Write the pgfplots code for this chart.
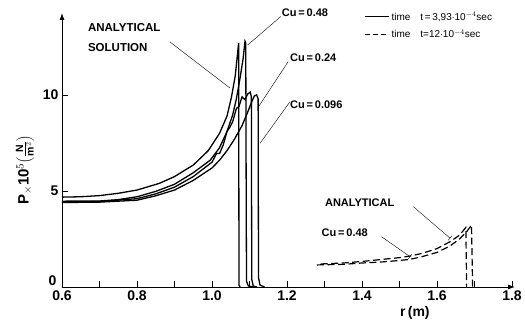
\documentclass[border=0pt]{standalone}
\usepackage{pgfplots}
\pgfplotsset{compat=1.18}
\usepackage{fontspec}
\setmainfont{Liberation Sans}
\usetikzlibrary{arrows.meta}
\begin{document}
\begin{tikzpicture}[x=1pt,y=1pt]
\path[use as bounding box] (-62pt,-37pt) rectangle (463pt,287pt);
\begin{axis}[
 at={(0,0)}, anchor=south west,
 scale only axis, width=453pt, height=274pt,
 xmin=0.6, xmax=1.808, ymin=0, ymax=14.27,
 axis lines=left,
 axis line style={line width=0.9pt, -{Latex[length=7pt,width=5pt]}},
 xtick={0.6,0.8,1.0,1.2,1.4,1.6,1.8},
 xticklabels={0.6,0.8,1.0,1.2,1.4,1.6,1.8},
 minor xtick={0.7,0.9,1.1,1.3,1.5,1.7},
 ytick={5,10}, yticklabels={5,10},
 extra y ticks={0}, extra y tick labels={0},
 extra y tick style={yticklabel style={yshift=6pt, xshift=-2pt}},
 tick align=inside, major tick length=6pt, minor tick length=6pt,
 every tick/.style={line width=0.8pt, black},
 tick label style={font=\bfseries\fontsize{14}{16}\selectfont},
 /pgf/number format/assume math mode=true,
 xlabel={r\,(m)},
 xlabel style={at={(axis description cs:0.779,0)}, anchor=center, yshift=-26pt, font=\bfseries\fontsize{14}{16}\selectfont},
 ylabel={P$_{\times}$10$^{5}$$\left(\frac{\mathbf{N}}{\mathbf{m}^{2}}\right)$},
 ylabel style={at={(axis description cs:-0.0817,0.427)}, anchor=center, font=\bfseries\fontsize{15}{17}\selectfont},
 clip=false,
 legend style={at={(axis description cs:0.665,1.015)}, anchor=north west, draw=none, fill=none,
   font=\fontsize{10}{12}\selectfont, row sep=4pt, inner sep=1pt},
 legend cell align=left,
 legend image code/.code={\draw[#1] (0pt,0pt) -- (24pt,0pt);},
]
\addlegendimage{line width=1.1pt}
\addlegendentry{time\quad t\,=\,3,93$\cdot$10$^{-4}$sec}
\addlegendimage{line width=1.1pt, dash pattern=on 5pt off 3pt}
\addlegendentry{time\quad t=12$\cdot$10$^{-4}$sec}

% analytical, t = 3.93e-4
\addplot[forget plot, line width=1.3pt] coordinates {
(0.60,4.68) (0.65,4.70) (0.70,4.76) (0.75,4.88) (0.80,5.05) (0.86,5.40) (0.90,5.75)
(0.95,6.35) (0.99,7.10) (1.02,8.00) (1.04,8.90) (1.052,9.90) (1.062,11.0) (1.071,12.7)
(1.072,0.1) (1.075,0)};
% Cu = 0.48
\addplot[forget plot, line width=1.3pt] coordinates {
(0.60,4.47) (0.70,4.48) (0.75,4.55) (0.80,4.70) (0.85,4.98) (0.90,5.35) (0.95,5.95)
(0.995,6.60) (1.02,7.25) (1.04,8.10) (1.055,8.95) (1.065,9.80) (1.075,10.90) (1.083,11.90)
(1.088,12.80) (1.090,12.70) (1.091,6) (1.092,0.3) (1.097,0.05) (1.11,0)};
% Cu = 0.24
\addplot[forget plot, line width=1.3pt] coordinates {
(0.60,4.43) (0.70,4.45) (0.80,4.60) (0.85,4.85) (0.90,5.20) (0.95,5.75) (0.98,6.20)
(1.00,6.50) (1.012,6.95) (1.02,6.95) (1.03,7.40) (1.04,8.10) (1.047,8.30) (1.055,8.60)
(1.065,9.30) (1.072,9.40) (1.080,9.90) (1.088,9.75) (1.095,10.05) (1.102,10.15)
(1.105,9.9) (1.106,0.4) (1.110,0.05) (1.12,0)};
% Cu = 0.096
\addplot[forget plot, line width=1.3pt] coordinates {
(0.60,4.40) (0.70,4.42) (0.80,4.52) (0.85,4.75) (0.90,5.05) (0.95,5.55) (1.00,6.20)
(1.02,6.60) (1.04,7.10) (1.06,7.70) (1.08,8.40) (1.095,9.10) (1.105,9.60) (1.113,9.95)
(1.119,10.0) (1.123,9.8) (1.124,0.5) (1.128,0.1) (1.14,0)};
% analytical, t = 12e-4
\addplot[forget plot, line width=1.2pt, dash pattern=on 7pt off 3.5pt] coordinates {
(1.29,1.20) (1.35,1.25) (1.40,1.33) (1.45,1.43) (1.50,1.53) (1.528,1.61) (1.56,1.75)
(1.60,2.00) (1.635,2.36) (1.66,2.70) (1.677,3.10) (1.679,0)};
% Cu = 0.48, t = 12e-4
\addplot[forget plot, line width=1.2pt, dash pattern=on 7pt off 3.5pt] coordinates {
(1.28,1.15) (1.35,1.18) (1.40,1.25) (1.45,1.30) (1.50,1.38) (1.528,1.44) (1.56,1.58)
(1.60,1.80) (1.635,2.14) (1.66,2.50) (1.68,2.90) (1.692,3.23) (1.695,0)};

% annotations
\node[anchor=west, font=\bfseries\fontsize{11.5}{13}\selectfont, inner sep=0pt] at (axis cs:0.669,13.49) {ANALYTICAL};
\node[anchor=west, font=\bfseries\fontsize{11.5}{13}\selectfont, inner sep=0pt] at (axis cs:0.669,12.45) {SOLUTION};
\draw[line width=0.4pt] (axis cs:0.888,12.76) -- (axis cs:1.048,10.36);
\node[anchor=west, font=\bfseries\fontsize{11}{13}\selectfont, inner sep=0pt] at (axis cs:1.186,14.3) {Cu\,=\,0.48};
\draw[line width=0.4pt] (axis cs:1.183,14.08) -- (axis cs:1.095,12.6);
\node[anchor=west, font=\bfseries\fontsize{11}{13}\selectfont, inner sep=0pt] at (axis cs:1.208,11.93) {Cu\,=\,0.24};
\draw[line width=0.4pt] (axis cs:1.203,11.73) -- (axis cs:1.123,9.36);
\node[anchor=west, font=\bfseries\fontsize{11}{13}\selectfont, inner sep=0pt] at (axis cs:1.208,9.48) {Cu\,=\,0.096};
\draw[line width=0.4pt] (axis cs:1.208,9.65) -- (axis cs:1.128,7.48);
\node[anchor=west, font=\bfseries\fontsize{11}{13}\selectfont, inner sep=0pt] at (axis cs:1.301,4.40) {ANALYTICAL};
\draw[line width=0.4pt, -{Bar[width=6pt]}] (axis cs:1.537,4.18) -- (axis cs:1.635,2.54);
\node[anchor=west, font=\bfseries\fontsize{11}{13}\selectfont, inner sep=0pt] at (axis cs:1.292,2.81) {Cu\,=\,0.48};
\draw[line width=0.4pt, -{Bar[width=6pt]}] (axis cs:1.452,2.62) -- (axis cs:1.528,1.58);
\end{axis}
\end{tikzpicture}
\end{document}
